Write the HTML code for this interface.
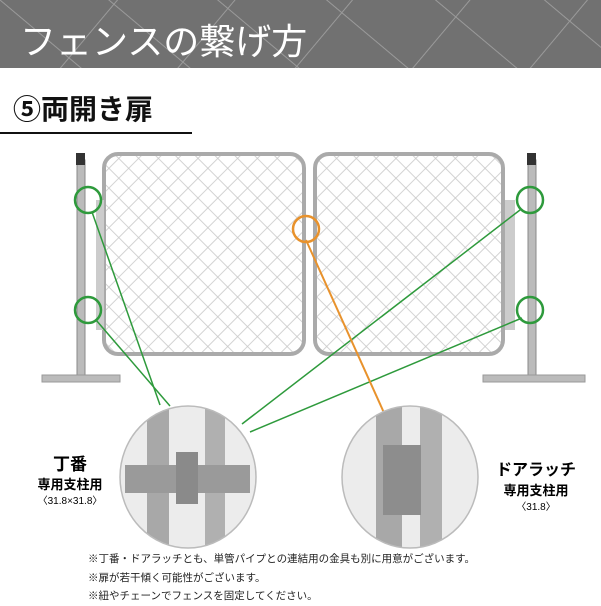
<!DOCTYPE html>
<html><head><meta charset="utf-8"><style>
body{margin:0;width:601px;height:600px;background:#fff;position:relative;overflow:hidden;font-family:"Liberation Sans","Noto Sans CJK JP",sans-serif}
.a{position:absolute;white-space:nowrap}
</style></head><body>
<svg class="a" style="left:0;top:0" width="601" height="600">
<defs><pattern id="m" width="14" height="14" patternUnits="userSpaceOnUse" patternTransform="rotate(45)"><rect width="14" height="14" fill="none" stroke="#c8c8c8" stroke-width="0.8"/></pattern>
<pattern id="h" width="90" height="70" patternUnits="userSpaceOnUse" patternTransform="rotate(40)"><rect width="90" height="70" fill="none" stroke="#9a9a9a" stroke-width="1"/></pattern>
<clipPath id="c1"><ellipse cx="188" cy="477" rx="68" ry="71"/></clipPath>
<clipPath id="c2"><ellipse cx="410" cy="477" rx="68" ry="71"/></clipPath></defs>
<rect x="0" y="0" width="601" height="68" fill="#717171"/>
<rect x="0" y="0" width="601" height="68" fill="url(#h)"/>
<rect x="0" y="132" width="192" height="2" fill="#111"/>
<rect x="77" y="160" width="8" height="216" fill="#bbb" stroke="#888"/>
<rect x="76" y="153" width="9" height="12" fill="#333"/>
<rect x="42" y="375" width="78" height="7" fill="#bbb" stroke="#999"/>
<rect x="528" y="160" width="8" height="216" fill="#bbb" stroke="#888"/>
<rect x="527" y="153" width="9" height="12" fill="#333"/>
<rect x="483" y="375" width="102" height="7" fill="#bbb" stroke="#999"/>
<rect x="104" y="154" width="200" height="200" rx="14" fill="url(#m)" stroke="#aaa" stroke-width="4"/>
<rect x="315" y="154" width="188" height="200" rx="14" fill="url(#m)" stroke="#aaa" stroke-width="4"/>
<rect x="96" y="200" width="8" height="130" fill="#ccc"/>
<rect x="505" y="200" width="10" height="130" fill="#ccc"/>
<g stroke="#2e9a3c" stroke-width="1.5" fill="none">
<line x1="92" y1="212" x2="160" y2="405"/><line x1="96" y1="320" x2="170" y2="406"/>
<line x1="520" y1="210" x2="242" y2="424"/><line x1="522" y1="318" x2="250" y2="432"/>
</g>
<line x1="306" y1="240" x2="385" y2="415" stroke="#e8922c" stroke-width="2"/>
<g fill="none" stroke="#2e9a3c" stroke-width="2.5">
<circle cx="88" cy="200" r="13"/><circle cx="88" cy="310" r="13"/>
<circle cx="530" cy="200" r="13"/><circle cx="530" cy="310" r="13"/>
</g>
<circle cx="306" cy="229" r="13" fill="none" stroke="#e8922c" stroke-width="2.5"/>
<ellipse cx="188" cy="477" rx="68" ry="71" fill="#ececec"/>
<ellipse cx="410" cy="477" rx="68" ry="71" fill="#ececec"/>
<g clip-path="url(#c1)">
<rect x="147" y="400" width="22" height="150" fill="#a8a8a8"/>
<rect x="205" y="400" width="20" height="150" fill="#b0b0b0"/>
<rect x="125" y="465" width="125" height="28" fill="#9a9a9a"/>
<rect x="176" y="452" width="22" height="52" fill="#8a8a8a"/>
</g>
<g clip-path="url(#c2)">
<rect x="376" y="400" width="26" height="150" fill="#a8a8a8"/>
<rect x="420" y="400" width="22" height="150" fill="#b0b0b0"/>
<rect x="383" y="445" width="38" height="70" fill="#8d8d8d"/>
</g>
<ellipse cx="188" cy="477" rx="68" ry="71" fill="none" stroke="#bbb" stroke-width="1.5"/>
<ellipse cx="410" cy="477" rx="68" ry="71" fill="none" stroke="#bbb" stroke-width="1.5"/>
</svg>
<div class="a" style="left:20px;top:13px;font-size:36px;color:#fff">フェンスの繋げ方</div>
<div class="a" style="left:13px;top:88px;font-size:28px;font-weight:bold;color:#111">⑤両開き扉</div>
<div class="a" style="left:0;width:140px;text-align:center;top:450px;font-size:17px;font-weight:bold">丁番</div>
<div class="a" style="left:0;width:140px;text-align:center;top:474px;font-size:13px;font-weight:bold">専用支柱用</div>
<div class="a" style="left:0;width:140px;text-align:center;top:492px;font-size:10px">〈31.8×31.8〉</div>
<div class="a" style="left:480px;width:112px;text-align:center;top:456px;font-size:16px;font-weight:bold">ドアラッチ</div>
<div class="a" style="left:480px;width:112px;text-align:center;top:480px;font-size:13px;font-weight:bold">専用支柱用</div>
<div class="a" style="left:480px;width:112px;text-align:center;top:498px;font-size:10px">〈31.8〉</div>
<div class="a" style="left:88px;top:550px;font-size:10.5px;color:#222;line-height:18.5px">※丁番・ドアラッチとも、単管パイプとの連結用の金具も別に用意がございます。<br>※扉が若干傾く可能性がございます。<br>※紐やチェーンでフェンスを固定してください。</div>
</body></html>
